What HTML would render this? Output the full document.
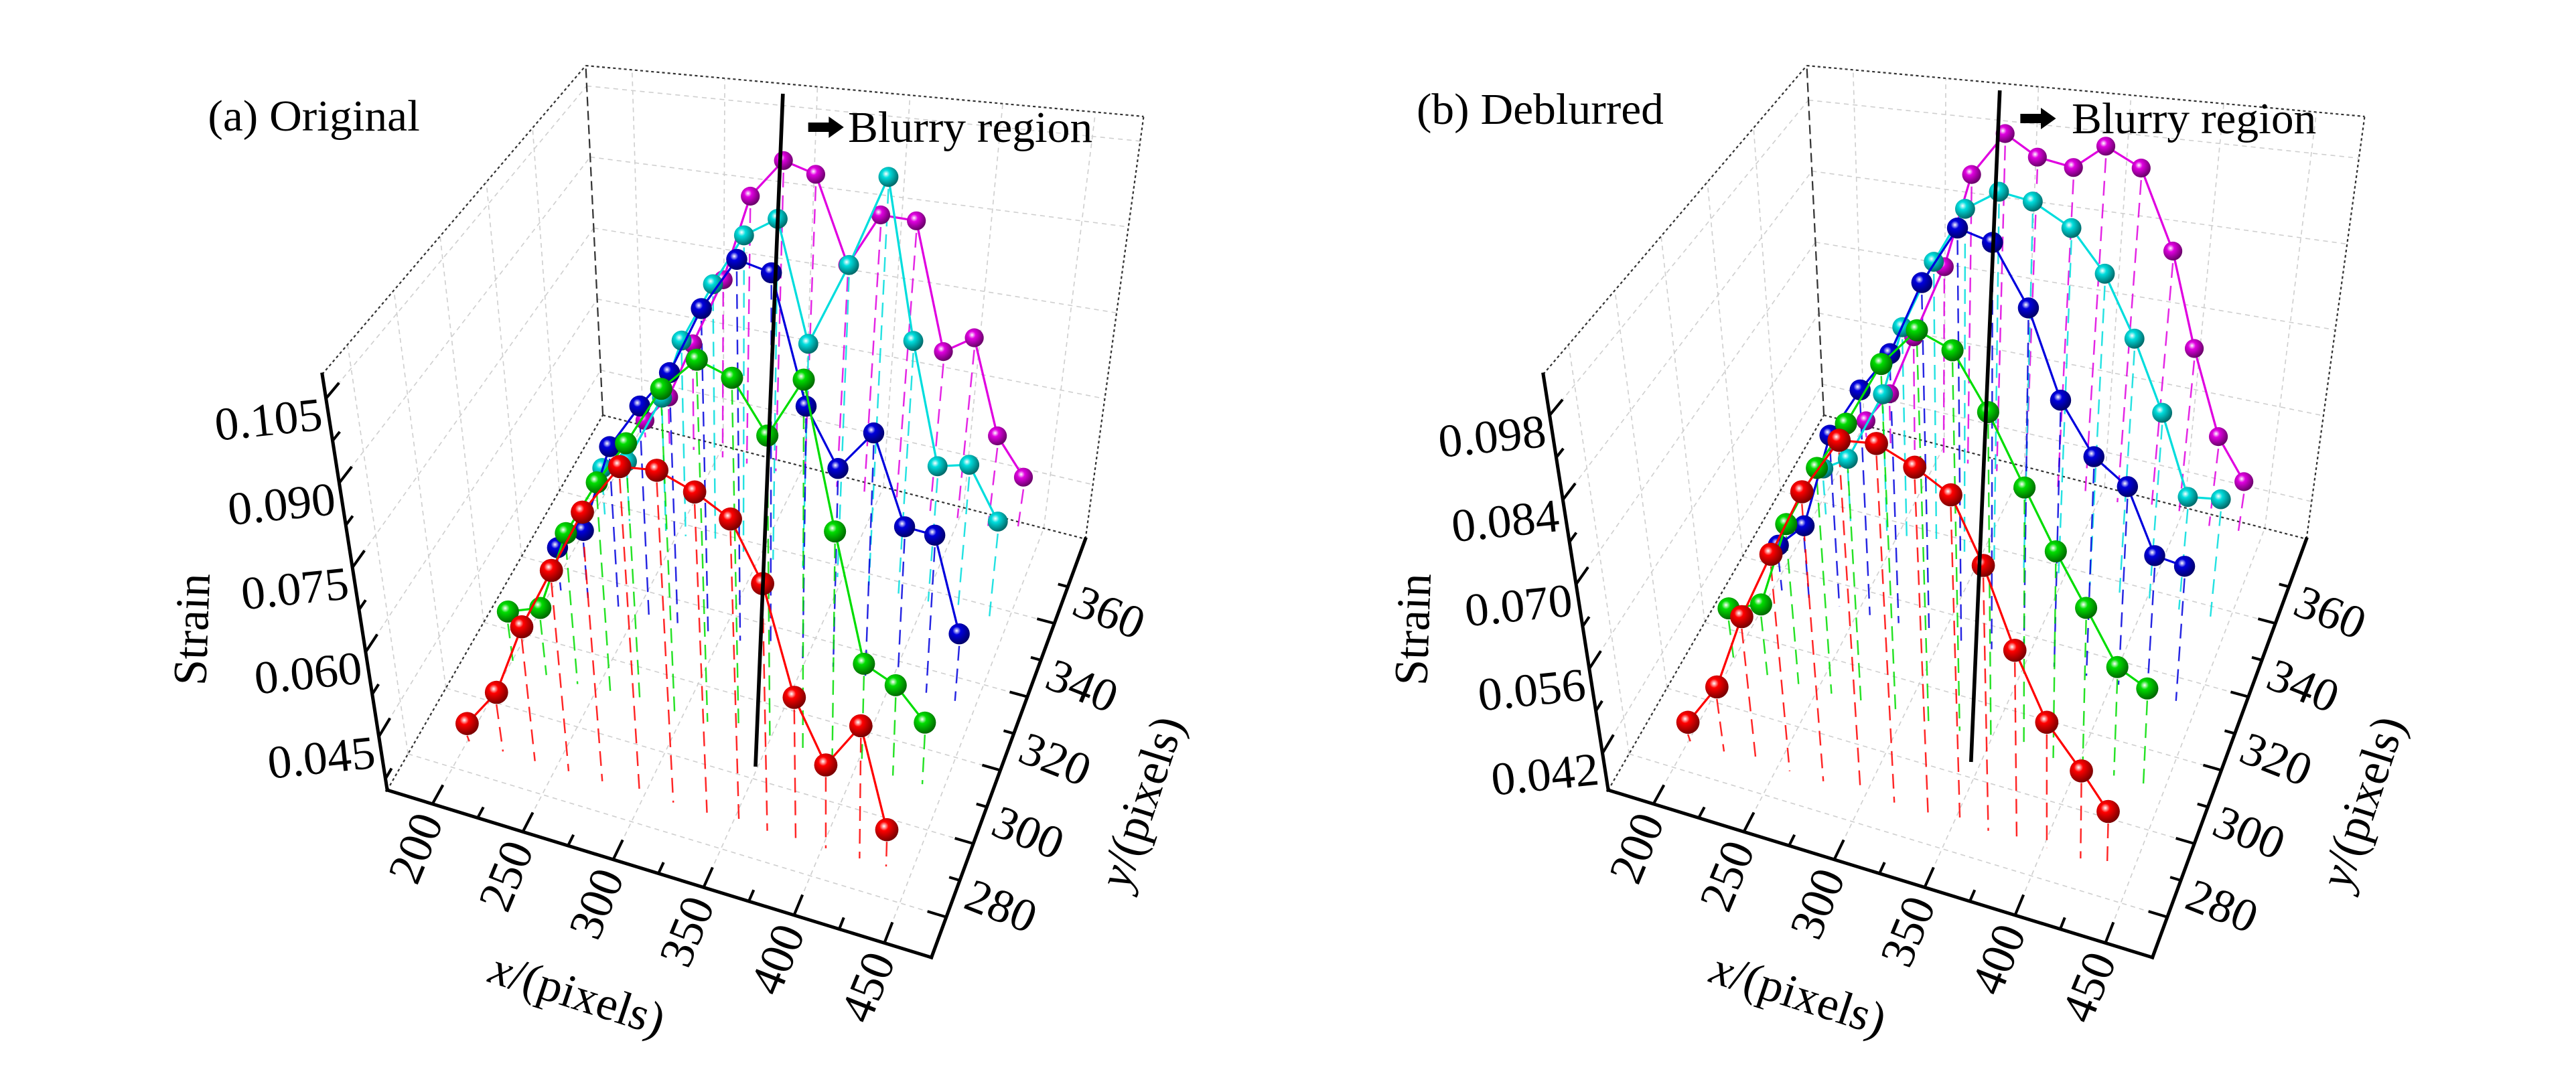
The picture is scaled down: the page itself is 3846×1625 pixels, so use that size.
<!DOCTYPE html>
<html>
<head>
<meta charset="utf-8">
<style>
  html,body{margin:0;padding:0;background:#fff;}
  svg{display:block;}
  text{font-family:"Liberation Serif","DejaVu Serif",serif;fill:#000;}
</style>
</head>
<body>
<svg id="fig" xmlns="http://www.w3.org/2000/svg" width="3846" height="1625" viewBox="0 0 3846 1625" font-family="Liberation Serif, DejaVu Serif, serif">
  <rect x="0" y="0" width="3846" height="1625" fill="#fff"/>
  <defs id="defs"></defs>
  <g id="panelA" transform="translate(200,50) scale(1.022,1)"></g>
  <g id="panelB" transform="translate(2023,50) scale(1.022,1)"></g>
</svg>
<script>
const NS = 'http://www.w3.org/2000/svg';

// ---- axis ranges & ticks ----
const xRange = [175, 476];
const yRange = [269, 383];
const zRangeA = [0.0355, 0.1093];
const zRangeB = [0.0359, 0.1048];
const xTickValues = [200, 250, 300, 350, 400, 450];
const xTickLabels = ['200', '250', '300', '350', '400', '450'];
const xMinorTicks = [225, 275, 325, 375, 425];
const yTickValues = [280, 300, 320, 340, 360];
const yTickLabels = ['280', '300', '320', '340', '360'];
const yMinorTicks = [290, 310, 330, 350, 370];
const zTickValuesA = [0.045, 0.060, 0.075, 0.090, 0.105];
const zTickLabelsA = ['0.045', '0.060', '0.075', '0.090', '0.105'];
const zMinorTicksA = [0.0375, 0.0525, 0.0675, 0.0825, 0.0975];
const zTickValuesB = [0.042, 0.056, 0.070, 0.084, 0.098];
const zTickLabelsB = ['0.042', '0.056', '0.070', '0.084', '0.098'];
const zMinorTicksB = [0.049, 0.063, 0.077, 0.091];

// ---- series data ----
const seriesNames = ['red', 'green', 'blue', 'cyan', 'magenta'];
const seriesY = [288, 311, 334, 357, 380];
const xRed     = [201, 220, 238, 257, 276, 297, 316, 335, 353, 369, 385, 402, 421, 436];
const xGreen   = [202, 221, 239, 258, 275, 295, 314, 332, 350, 369, 386, 403, 421, 438];
const xBlue    = [205, 221, 239, 257, 274, 292, 311, 329, 348, 366, 385, 404, 421, 438];
const xCyan    = [206, 221, 243, 255, 273, 290, 308, 326, 347, 366, 384, 402, 420, 439];
const xMagenta = [205, 220, 235, 253, 268, 286, 304, 324, 341, 361, 382, 399, 418, 436];

const zRedA     = [0.0387, 0.0460, 0.0591, 0.0704, 0.0818, 0.0909, 0.0914, 0.0889, 0.0855, 0.0759, 0.0585, 0.0489, 0.0566, 0.0413];
const zGreenA   = [0.0455, 0.0478, 0.0629, 0.0734, 0.0815, 0.0923, 0.0984, 0.0962, 0.0873, 0.0978, 0.0733, 0.0525, 0.0503, 0.0455];
const zBlueA    = [0.0437, 0.0483, 0.0655, 0.0743, 0.0815, 0.0942, 0.1040, 0.1024, 0.0798, 0.0700, 0.0773, 0.0624, 0.0621, 0.0467];
const zCyanA    = [0.0447, 0.0472, 0.0613, 0.0731, 0.0849, 0.0950, 0.0989, 0.0767, 0.0922, 0.1089, 0.0804, 0.0593, 0.0607, 0.0521];
const zMagentaA = [0.0390, 0.0450, 0.0569, 0.0709, 0.0883, 0.0961, 0.0942, 0.0778, 0.0881, 0.0879, 0.0648, 0.0683, 0.0517, 0.0455];

const zRedB     = [0.0391, 0.0466, 0.0596, 0.0711, 0.0824, 0.0918, 0.0923, 0.0896, 0.0863, 0.0764, 0.0645, 0.0548, 0.0489, 0.0440];
const zGreenB   = [0.0458, 0.0480, 0.0630, 0.0737, 0.0821, 0.0930, 0.0994, 0.0970, 0.0880, 0.0771, 0.0681, 0.0604, 0.0525, 0.0504];
const zBlueB    = [0.0440, 0.0487, 0.0659, 0.0749, 0.0821, 0.0951, 0.1051, 0.1034, 0.0934, 0.0792, 0.0711, 0.0674, 0.0575, 0.0569];
const zCyanB    = [0.0444, 0.0473, 0.0606, 0.0734, 0.0860, 0.0961, 0.0998, 0.0988, 0.0951, 0.0882, 0.0782, 0.0669, 0.0542, 0.0550];
const zMagentaB = [0.0391, 0.0454, 0.0572, 0.0714, 0.0892, 0.0974, 0.0938, 0.0927, 0.0971, 0.0940, 0.0805, 0.0647, 0.0509, 0.0445];

const xSeries = [xRed, xGreen, xBlue, xCyan, xMagenta];
const zSeriesA = [zRedA, zGreenA, zBlueA, zCyanA, zMagentaA];
const zSeriesB = [zRedB, zGreenB, zBlueB, zCyanB, zMagentaB];

const lineColors = ['#ff0000', '#00dd00', '#0000dd', '#00dddd', '#e000e0'];
const darkColors = ['#7a0000', '#006a00', '#00006a', '#006a6a', '#6a006a'];

const C = {
  '000': [370, 1130], '100': [1165, 1380], '010': [685, 570], '110': [1390, 755],
  '001': [275, 509],  '101': [1180, 651],  '011': [660, 48],  '111': [1475, 124]
};
function lerp(a, b, t) { return [a[0] + (b[0] - a[0]) * t, a[1] + (b[1] - a[1]) * t]; }
function proj(x, y, z, zr) {
  const u = (x - xRange[0]) / (xRange[1] - xRange[0]);
  const v = (y - yRange[0]) / (yRange[1] - yRange[0]);
  const w = (z - zr[0]) / (zr[1] - zr[0]);
  const a = lerp(lerp(C['000'], C['100'], u), lerp(C['010'], C['110'], u), v);
  const b = lerp(lerp(C['001'], C['101'], u), lerp(C['011'], C['111'], u), v);
  return lerp(a, b, w);
}
function mk(tag, attrs, parent) {
  const el = document.createElementNS(NS, tag);
  for (const k in attrs) el.setAttribute(k, attrs[k]);
  parent.appendChild(el);
  return el;
}
function line(p, q, attrs, parent) {
  return mk('line', Object.assign({ x1: p[0].toFixed(1), y1: p[1].toFixed(1), x2: q[0].toFixed(1), y2: q[1].toFixed(1) }, attrs), parent);
}

const defs = document.getElementById('defs');
seriesNames.forEach((n, i) => {
  const g = mk('radialGradient', { id: 'ball-' + n, cx: '0.38', cy: '0.35', r: '0.65' }, defs);
  mk('stop', { offset: '0', 'stop-color': '#ffffff' }, g);
  mk('stop', { offset: '0.3', 'stop-color': lineColors[i] }, g);
  mk('stop', { offset: '1', 'stop-color': darkColors[i] }, g);
});

function drawPanel(g, zr, zSeries, zTicks, zLabels, zMinor, title, titleX, titleY, lineTop, lineBot, arrowX, arrowY, textX, textY) {
  const xmin = xRange[0], xmax = xRange[1], ymin = yRange[0], ymax = yRange[1], zmin = zr[0], zmax = zr[1];
  const grid = { stroke: '#cfcfcf', 'stroke-width': 1.6, 'stroke-dasharray': '7 6', fill: 'none' };
  const gg = mk('g', {}, g);
  
  
  xTickValues.forEach(x => line(proj(x, ymax, zmin, zr), proj(x, ymax, zmax, zr), grid, gg));
  zTicks.forEach(z => line(proj(xmin, ymax, z, zr), proj(xmax, ymax, z, zr), grid, gg));
  yTickValues.forEach(y => line(proj(xmin, y, zmin, zr), proj(xmin, y, zmax, zr), grid, gg));
  zTicks.forEach(z => line(proj(xmin, ymin, z, zr), proj(xmin, ymax, z, zr), grid, gg));
  xTickValues.forEach(x => line(proj(x, ymin, zmin, zr), proj(x, ymax, zmin, zr), grid, gg));
  yTickValues.forEach(y => line(proj(xmin, y, zmin, zr), proj(xmax, y, zmin, zr), grid, gg));

  const dotted = { stroke: '#333', 'stroke-width': 2.2, 'stroke-dasharray': '4 4' };
  const bx = mk('g', {}, g);
  
  
  line(C['011'], C['111'], dotted, bx);
  line(C['010'], C['110'], dotted, bx);
  line(C['110'], C['111'], dotted, bx);
  line(C['001'], C['011'], dotted, bx);
  line(C['000'], C['010'], dotted, bx);
  line(C['010'], C['011'], { stroke: '#333', 'stroke-width': 2.2, 'stroke-dasharray': '14 7' }, bx);

  const st = mk('g', {}, g);
  
  
  for (let s = seriesNames.length - 1; s >= 0; s--) {
    const xs = xSeries[s], zs = zSeries[s], y = seriesY[s];
    xs.forEach((x, i) => {
      const p = proj(x, y, zs[i], zr), q = proj(x, y, zmin, zr);
      const l = line([p[0], p[1] + 18], q, { stroke: lineColors[s], 'stroke-width': 2.4, 'stroke-dasharray': '22 12', opacity: 0.85 }, st);
      
      
    });
  }

  for (let s = seriesNames.length - 1; s >= 0; s--) {
    const xs = xSeries[s], zs = zSeries[s], y = seriesY[s];
    const sg = mk('g', {}, g);
    
    
    const pts = xs.map((x, i) => proj(x, y, zs[i], zr));
    const pl = mk('polyline', { points: pts.map(p => p[0].toFixed(1) + ',' + p[1].toFixed(1)).join(' '), fill: 'none', stroke: lineColors[s], 'stroke-width': 3.2 }, sg);
    
    
    const v = (y - ymin) / (ymax - ymin);
    const r = 18 - 4 * v;
    pts.forEach((p, i) => {
      const c = mk('ellipse', { cx: p[0].toFixed(1), cy: p[1].toFixed(1), rx: (r / 1.022).toFixed(1), ry: r.toFixed(1), fill: 'url(#ball-' + seriesNames[s] + ')' }, sg);
      
      
    });
  }

  const ax = mk('g', {}, g);
  
  
  const thick = { stroke: '#000', 'stroke-width': 5, 'stroke-linecap': 'square' };
  const xa = line(C['000'], C['100'], thick, ax);
  
  
  const ya = line(C['100'], C['110'], thick, ax);
  
  
  const za = line(C['000'], C['001'], thick, ax);
  
  
  const tk = { stroke: '#000', 'stroke-width': 4 };
  const yr = ymax - ymin, xr = xmax - xmin;
  xTickValues.forEach(x => line(proj(x, ymin, zmin, zr), proj(x, ymin + 0.05 * yr, zmin, zr), tk, ax));
  xMinorTicks.forEach(x => line(proj(x, ymin, zmin, zr), proj(x, ymin + 0.028 * yr, zmin, zr), tk, ax));
  yTickValues.forEach(y => line(proj(xmax, y, zmin, zr), proj(xmax - 0.035 * xr, y, zmin, zr), tk, ax));
  yMinorTicks.forEach(y => line(proj(xmax, y, zmin, zr), proj(xmax - 0.02 * xr, y, zmin, zr), tk, ax));
  zTicks.forEach(z => line(proj(xmin, ymin, z, zr), proj(xmin, ymin + 0.05 * yr, z, zr), tk, ax));
  zMinor.forEach(z => line(proj(xmin, ymin, z, zr), proj(xmin, ymin + 0.028 * yr, z, zr), tk, ax));

  const fs = 70;
  xTickValues.forEach((x, i) => {
    const p = proj(x, ymin, zmin, zr);
    const lx = p[0] - 24, ly = p[1] + 66;
    const t = mk('text', { x: lx.toFixed(1), y: ly.toFixed(1), 'font-size': fs, 'text-anchor': 'middle', 'dominant-baseline': 'central', transform: 'rotate(-68 ' + lx.toFixed(1) + ' ' + ly.toFixed(1) + ')' }, ax);
    t.textContent = xTickLabels[i];
    
    
  });
  yTickValues.forEach((y, i) => {
    const p = proj(xmax, y, zmin, zr);
    const lx = p[0] + 80, ly = p[1] - 16;
    const t = mk('text', { x: lx.toFixed(1), y: ly.toFixed(1), 'font-size': fs, 'text-anchor': 'middle', 'dominant-baseline': 'central', transform: 'rotate(22 ' + lx.toFixed(1) + ' ' + ly.toFixed(1) + ')' }, ax);
    t.textContent = yTickLabels[i];
    
    
  });
  zTicks.forEach((z, i) => {
    const p = proj(xmin, ymin, z, zr);
    const lx = p[0] - 84, ly = p[1] + 32;
    const t = mk('text', { x: lx.toFixed(1), y: ly.toFixed(1), 'font-size': fs, 'text-anchor': 'middle', 'dominant-baseline': 'central', transform: 'rotate(-6 ' + lx.toFixed(1) + ' ' + ly.toFixed(1) + ')' }, ax);
    t.textContent = zLabels[i];
    
    
  });

  const st1 = mk('text', { x: 85, y: 890, 'font-size': fs, 'text-anchor': 'middle', 'dominant-baseline': 'central', transform: 'rotate(-88 85 890)' }, g);
  st1.textContent = 'Strain';
  
  
  const xt = mk('text', { x: 648, y: 1435, 'font-size': fs, 'text-anchor': 'middle', 'dominant-baseline': 'central', transform: 'rotate(18 648 1435)' }, g);
  xt.innerHTML = '<tspan font-style="italic">x</tspan>/(pixels)';
  
  
  const yt = mk('text', { x: 1472, y: 1148, 'font-size': fs, 'text-anchor': 'middle', 'dominant-baseline': 'central', transform: 'rotate(-72 1472 1148)' }, g);
  yt.innerHTML = '<tspan font-style="italic">y</tspan>/(pixels)';
  
  

  const tt = mk('text', { x: titleX, y: titleY, 'font-size': 66 }, g);
  tt.textContent = title;
  
  

  const bl = line(lineTop, lineBot, { stroke: '#000', 'stroke-width': 5.5 }, g);
  
  
  const ar = mk('polygon', { points: [[arrowX, arrowY - 7], [arrowX + 30, arrowY - 7], [arrowX + 30, arrowY - 16], [arrowX + 52, arrowY], [arrowX + 30, arrowY + 16], [arrowX + 30, arrowY + 7], [arrowX, arrowY + 7]].map(p => p.join(',')).join(' '), fill: '#000' }, g);
  
  
  const bt = mk('text', { x: textX, y: textY, 'font-size': 66 }, g);
  bt.textContent = 'Blurry region';
  
  
}

drawPanel(document.getElementById('panelA'), zRangeA, zSeriesA, zTickValuesA, zTickLabelsA, zMinorTicksA,
  '(a) Original', 108, 145, [948, 90], [908, 1095], 985, 140, 1043, 162);
drawPanel(document.getElementById('panelB'), zRangeB, zSeriesB, zTickValuesB, zTickLabelsB, zMinorTicksB,
  '(b) Deblurred', 90, 135, [942, 85], [900, 1088], 972, 127, 1047, 149);
</script>
</body>
</html>
